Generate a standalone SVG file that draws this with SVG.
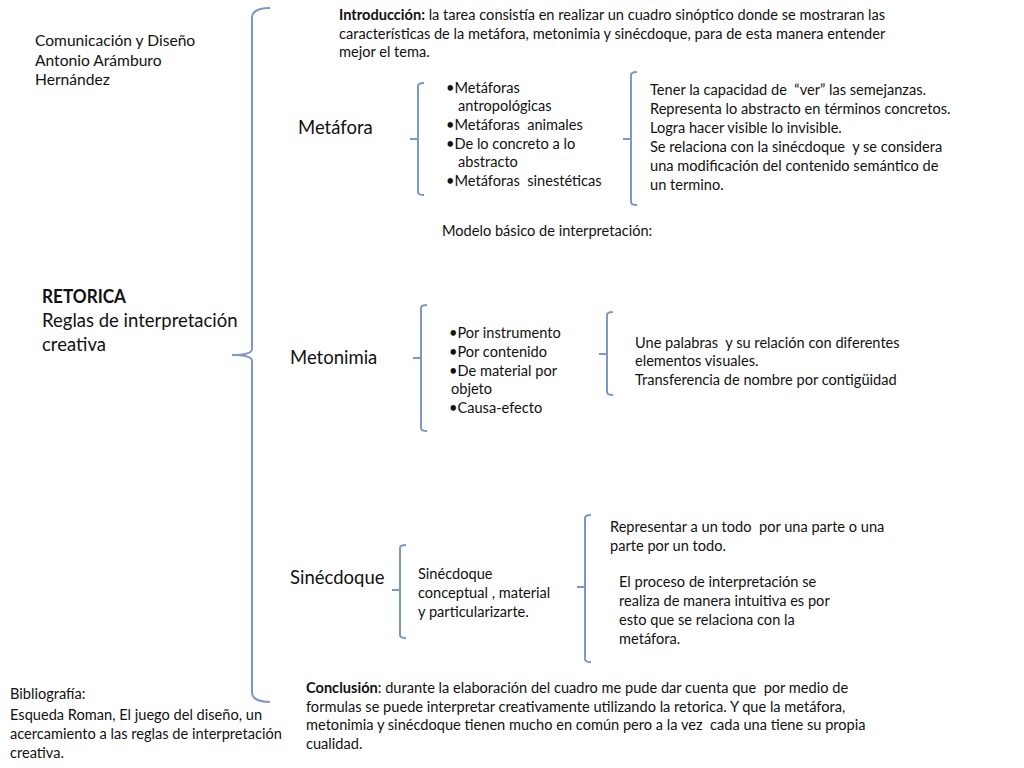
<svg xmlns="http://www.w3.org/2000/svg" width="1024" height="768" viewBox="0 0 1024 768" xml:space="preserve">
<style>
text{font-family:Lato,"Open Sans","Liberation Sans",sans-serif;fill:#111;font-size:14.6px;white-space:pre}
.b{font-weight:bold}
.h{font-size:18.5px}
.m{font-size:15.6px}
.br{fill:none;stroke:#7d97c9;stroke-width:2}
</style>
<rect width="1024" height="768" fill="#fff"/>
<g id="connectors">
<path class="br" d="M270 8 Q252 8 252 18 L252 349 Q252 355 232 355 Q252 355 252 361 L252 692 Q252 702 270 702"/>
<path class="br" d="M424 83 Q418 83 418 86 L418 192 Q418 195 424 195 M418 139 L410 139"/>
<path class="br" d="M637 72 Q631 72 631 75 L631 202 Q631 205 637 205 M631 139 L623 139"/>
<path class="br" d="M427 305 Q421 305 421 308 L421 428 Q421 431 427 431 M421 358 L413 358"/>
<path class="br" d="M613 312 Q607 312 607 315 L607 392 Q607 395 613 395 M607 354 L599 354"/>
<path class="br" d="M406 545 Q400 545 400 548 L400 635 Q400 638 406 638 M400 590 L392 590"/>
<path class="br" d="M591 515 Q585 515 585 518 L585 659 Q585 662 591 662 M585 587 L577 587"/>
</g>
<g id="author">
<text class="m" x="35" y="46">Comunicación y Diseño</text>
<text class="m" x="35" y="66">Antonio Arámburo</text>
<text class="m" x="35" y="85">Hernández</text>
</g>
<g id="intro">
<text x="339" y="20"><tspan class="b">Introducción:</tspan> la tarea consistía en realizar un cuadro sinóptico donde se mostraran las</text>
<text x="339" y="39">características de la metáfora, metonimia y sinécdoque, para de esta manera entender</text>
<text x="339" y="57">mejor el tema.</text>
</g>
<g id="retorica">
<text class="h b" x="42" y="303" textLength="84" lengthAdjust="spacingAndGlyphs">RETORICA</text>
<text class="h" x="42" y="327">Reglas de interpretación</text>
<text class="h" x="42" y="351">creativa</text>
</g>
<g id="metafora">
<text class="h" x="298" y="134">Metáfora</text>
</g>
<g id="metafora-tipos">
<text x="446" y="93">•Metáforas</text>
<text x="458" y="111">antropológicas</text>
<text x="446" y="130">•Metáforas  animales</text>
<text x="446" y="149">•De lo concreto a lo</text>
<text x="458" y="167">abstracto</text>
<text x="446" y="186">•Metáforas  sinestéticas</text>
</g>
<g id="metafora-def">
<text x="650" y="95">Tener la capacidad de  “ver” las semejanzas.</text>
<text x="650" y="114">Representa lo abstracto en términos concretos.</text>
<text x="650" y="133">Logra hacer visible lo invisible.</text>
<text x="650" y="152">Se relaciona con la sinécdoque  y se considera</text>
<text x="650" y="171">una modificación del contenido semántico de</text>
<text x="650" y="190">un termino.</text>
</g>
<g id="modelo">
<text x="442" y="236">Modelo básico de interpretación:</text>
</g>
<g id="metonimia">
<text class="h" x="290" y="364">Metonimia</text>
</g>
<g id="metonimia-tipos">
<text x="449" y="338">•Por instrumento</text>
<text x="449" y="357">•Por contenido</text>
<text x="449" y="376">•De material por</text>
<text x="451" y="394">objeto</text>
<text x="449" y="413">•Causa-efecto</text>
</g>
<g id="metonimia-def">
<text x="635" y="348">Une palabras  y su relación con diferentes</text>
<text x="635" y="366">elementos visuales.</text>
<text x="635" y="385">Transferencia de nombre por contigüidad</text>
</g>
<g id="sinecdoque">
<text class="h" x="290" y="584">Sinécdoque</text>
</g>
<g id="sinecdoque-tipos">
<text x="418" y="579">Sinécdoque</text>
<text x="418" y="598">conceptual , material</text>
<text x="418" y="617">y particularizarte.</text>
</g>
<g id="sinecdoque-def1">
<text x="610" y="532">Representar a un todo  por una parte o una</text>
<text x="610" y="551">parte por un todo.</text>
</g>
<g id="sinecdoque-def2">
<text x="619" y="587">El proceso de interpretación se</text>
<text x="619" y="606">realiza de manera intuitiva es por</text>
<text x="619" y="625">esto que se relaciona con la</text>
<text x="619" y="644">metáfora.</text>
</g>
<g id="bibliografia">
<text x="10" y="699">Bibliografía:</text>
<text x="10" y="720">Esqueda Roman, El juego del diseño, un</text>
<text x="10" y="739">acercamiento a las reglas de interpretación</text>
<text x="10" y="758">creativa.</text>
</g>
<g id="conclusion">
<text x="306" y="693"><tspan class="b">Conclusión</tspan>: durante la elaboración del cuadro me pude dar cuenta que  por medio de</text>
<text x="306" y="712">formulas se puede interpretar creativamente utilizando la retorica. Y que la metáfora,</text>
<text x="306" y="730">metonimia y sinécdoque tienen mucho en común pero a la vez  cada una tiene su propia</text>
<text x="306" y="749">cualidad.</text>
</g>
</svg>
